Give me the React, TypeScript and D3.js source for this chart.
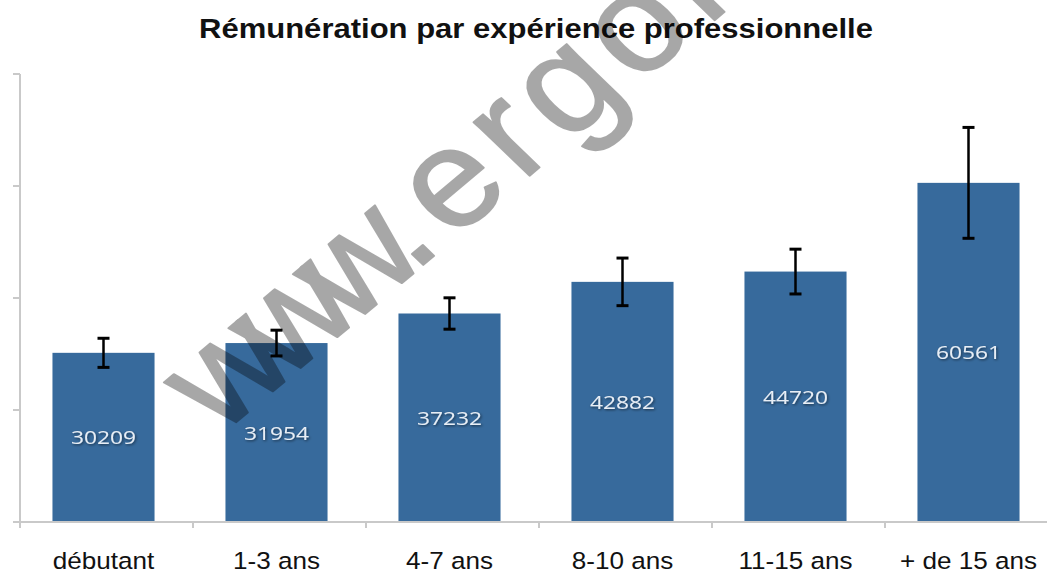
import React from "react";
import * as d3 from "d3";

const categories = ["débutant", "1-3 ans", "4-7 ans", "8-10 ans", "11-15 ans", "+ de 15 ans"];
const values = [30209, 31954, 37232, 42882, 44720, 60561];
const errors = [2600, 2300, 2800, 4250, 4000, 9900];
const yTicks = [0, 20000, 40000, 60000, 80000];
const title = "Rémunération par expérience professionnelle";
const watermarkHead = "www";
const watermarkTail = ".ergonaute.fr";

const W = 1047;
const H = 574;

export default function App() {
  const x = d3
    .scaleBand<string>()
    .domain(categories)
    .range([17, 1055])
    .paddingInner(0.41)
    .paddingOuter(0.205);
  const y = d3.scaleLinear().domain([0, 80000]).range([522, 74]);
  const bw = x.bandwidth();
  const axisColor = "#c9c9c9";
  const boundaries = categories.map((c) => (x(c) as number) - (x.step() - bw) / 2);

  return (
    <svg
      width={W}
      height={H}
      style={{ position: "absolute", left: 0, top: 0, display: "block", background: "#fff" }}
    >
      <defs>
        <filter id="sh" x="-20%" y="-40%" width="140%" height="180%">
          <feDropShadow dx="0.8" dy="1.2" stdDeviation="1.2" floodColor="#000" floodOpacity="0.55" />
        </filter>
      </defs>
      <text
        x={536}
        y={38}
        textAnchor="middle"
        fontFamily="'Liberation Sans', Arial, sans-serif"
        fontWeight="bold"
        fontSize={28}
        textLength={674}
        lengthAdjust="spacingAndGlyphs"
        fill="#111"
      >
        {title}
      </text>

      {/* y axis */}
      <line x1={20} x2={20} y1={y(80000)} y2={y(0)} stroke={axisColor} strokeWidth={2} />
      {yTicks.map((t) => (
        <line key={t} x1={13} x2={20} y1={y(t)} y2={y(t)} stroke={axisColor} strokeWidth={2} />
      ))}

      {/* bars */}
      {categories.map((c, i) => (
        <rect
          key={c}
          x={x(c)}
          y={y(values[i])}
          width={bw}
          height={y(0) - y(values[i])}
          fill="#376a9c"
        />
      ))}

      {/* x axis */}
      <line x1={19} x2={W} y1={y(0)} y2={y(0)} stroke={axisColor} strokeWidth={2} />
      {boundaries.map((b, i) => (
        <line key={i} x1={b + 3} x2={b + 3} y1={y(0)} y2={y(0) + 6} stroke={axisColor} strokeWidth={2} />
      ))}

      {/* error bars */}
      {categories.map((c, i) => {
        const cx = (x(c) as number) + bw / 2;
        const top = y(values[i] + errors[i]);
        const bot = y(values[i] - errors[i]);
        return (
          <g key={c} stroke="#000">
            <line x1={cx} x2={cx} y1={top} y2={bot} strokeWidth={2.5} />
            <line x1={cx - 6} x2={cx + 6} y1={top} y2={top} strokeWidth={3} />
            <line x1={cx - 6} x2={cx + 6} y1={bot} y2={bot} strokeWidth={3} />
          </g>
        );
      })}

      {/* value labels */}
      {categories.map((c, i) => {
        const cx = (x(c) as number) + bw / 2;
        const cy = (y(values[i]) + y(0)) / 2;
        return (
          <text
            key={c}
            transform={`translate(${cx},${cy + 7}) scale(1.2,1)`}
            textAnchor="middle"
            fontFamily="'Open Sans', sans-serif"
            fontSize={19}
            fill="#e8eef5"
            filter="url(#sh)"
          >
            {values[i]}
          </text>
        );
      })}

      {/* category labels */}
      {categories.map((c) => {
        const cx = (x(c) as number) + bw / 2;
        return (
          <text
            key={c}
            transform={`translate(${cx},569) scale(1.11,1)`}
            textAnchor="middle"
            fontFamily="'Liberation Sans', Arial, sans-serif"
            fontSize={23.5}
            fill="#111"
          >
            {c}
          </text>
        );
      })}

      {/* watermark */}
      <g opacity={0.34} transform="scale(1.11,1)">
        <text
          transform="translate(198,436) rotate(-43)"
          fontFamily="'Liberation Sans', Arial, sans-serif"
          fontSize={139}
          fill="#000"
          stroke="#000"
          strokeWidth={2}
          strokeLinejoin="round"
        >
          <tspan letterSpacing={-21}>{watermarkHead}</tspan>
          <tspan letterSpacing={9}>{watermarkTail}</tspan>
        </text>
      </g>
    </svg>
  );
}
